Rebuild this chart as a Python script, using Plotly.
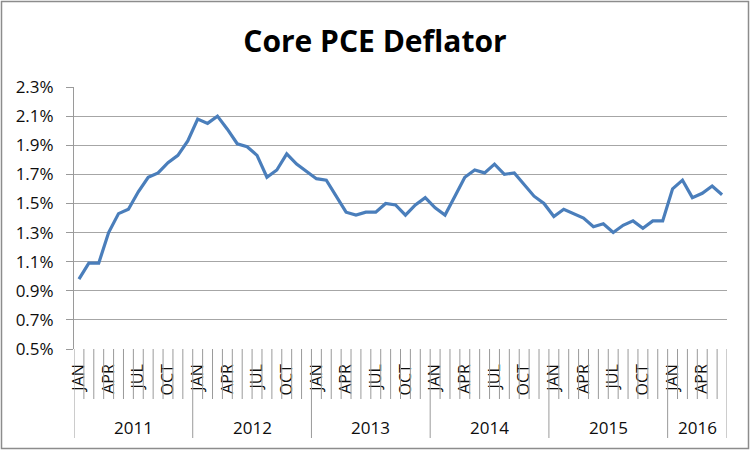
import plotly.graph_objects as go

years = ["2011", "2012", "2013", "2014", "2015", "2016"]
months = ["JAN", "FEB", "MAR", "APR", "MAY", "JUN", "JUL", "AUG", "SEP", "OCT", "NOV", "DEC"]
pce_2011 = [0.98, 1.09, 1.09, 1.30, 1.43, 1.46, 1.58, 1.68, 1.71, 1.78, 1.83, 1.93]
pce_2012 = [2.08, 2.05, 2.10, 2.01, 1.91, 1.89, 1.83, 1.68, 1.73, 1.84, 1.77, 1.72]
pce_2013 = [1.67, 1.66, 1.55, 1.44, 1.42, 1.44, 1.44, 1.50, 1.49, 1.42, 1.49, 1.54]
pce_2014 = [1.47, 1.42, 1.55, 1.68, 1.73, 1.71, 1.77, 1.70, 1.71, 1.63, 1.55, 1.50]
pce_2015 = [1.41, 1.46, 1.43, 1.40, 1.34, 1.36, 1.30, 1.35, 1.38, 1.33, 1.38, 1.38]
pce_2016 = [1.60, 1.66, 1.54, 1.57, 1.62, 1.56]
series = [pce_2011, pce_2012, pce_2013, pce_2014, pce_2015, pce_2016]
y_ticks = [0.5, 0.7, 0.9, 1.1, 1.3, 1.5, 1.7, 1.9, 2.1, 2.3]

values = [v for s in series for v in s]
month_labels = [months[i % 12] for i in range(len(values))]
xs = list(range(len(values)))

W, H = 751, 451
L, R, T, B = 74, 24, 87, 102
pw, ph = W - L - R, H - T - B

def px_to_py(py):
    return (H - B - py) / ph

def px_to_px(px):
    return (px - L) / pw

fig = go.Figure()
fig.add_trace(go.Scatter(x=xs, y=values, mode="lines",
                         line=dict(color="#4a7ebb", width=3.2), hoverinfo="skip"))

shapes = []
year_bounds = set()
start = 0
for s in series:
    year_bounds.add(start - 0.5)
    start += len(s)
year_bounds.add(start - 0.5)
for k in range(len(values) + 1):
    b = k - 0.5
    y1 = px_to_py(438) if b in year_bounds else px_to_py(399)
    shapes.append(dict(type="line", xref="x", yref="paper", x0=b, x1=b, y0=0, y1=y1,
                       line=dict(color="#9a9a9a", width=1)))
shapes.append(dict(type="rect", xref="paper", yref="paper",
                   x0=px_to_px(1.5), x1=px_to_px(748.5), y0=px_to_py(448.5), y1=px_to_py(1.5),
                   line=dict(color="#8c8c8c", width=1.5), fillcolor="rgba(0,0,0,0)", layer="below"))

annotations = []
start = 0
for yr, s in zip(years, series):
    center = start + (len(s) - 1) / 2
    annotations.append(dict(x=center, y=px_to_py(427), xref="x", yref="paper", text=yr,
                            showarrow=False, font=dict(size=17, color="#0d0d0d", family="Open Sans"),
                            yanchor="middle", xanchor="center"))
    start += len(s)

tickvals = [i for i in xs if i % 3 == 0]
ticktext = [month_labels[i] for i in tickvals]

fig.update_layout(
    width=W, height=H,
    margin=dict(l=L, r=R, t=T, b=B, autoexpand=False),
    paper_bgcolor="white", plot_bgcolor="white",
    showlegend=False,
    title=dict(text="<b>Core PCE Deflator</b>", x=375 / W, xref="container", xanchor="center",
               y=1 - 41 / H, yref="container", yanchor="middle",
               font=dict(size=30, color="black", family="Open Sans")),
    xaxis=dict(range=[-0.5, len(values) - 0.5], tickvals=tickvals, ticktext=ticktext,
               tickangle=-90, ticks="", showgrid=False, zeroline=False, showline=False,
               ticklabelstandoff=11, automargin=False,
               tickfont=dict(size=16, color="#0d0d0d", family="Open Sans")),
    yaxis=dict(range=[0.5, 2.3], tickvals=y_ticks, ticktext=[f"{v:.1f}%" for v in y_ticks],
               showgrid=True, gridcolor="#a6a6a6", gridwidth=1, zeroline=False,
               showline=True, linecolor="#9a9a9a", linewidth=1, automargin=False,
               ticks="outside", ticklen=7, tickcolor="#9a9a9a", ticklabelstandoff=9,
               tickfont=dict(size=17, color="#0d0d0d", family="Open Sans")),
    shapes=shapes, annotations=annotations,
)

fig.write_html("out.html", config={"displayModeBar": False},
               post_script="document.body.style.margin='0';document.body.style.overflow='hidden';")
